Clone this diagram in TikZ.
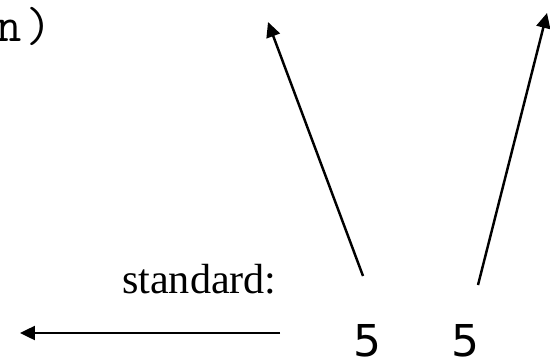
\documentclass[tikz,border=0pt]{standalone}
\usepackage{fontspec}
\setmainfont{Liberation Serif}
\newfontfamily\digitfont{DejaVu Sans}
\usetikzlibrary{arrows.meta}
\tikzset{
  pointer/.style={-{Triangle[length=0.3cm, width=0.28cm]}, line width=1.4pt, color=black},
  label/.style={inner sep=0pt, font=\fontsize{24}{28}\selectfont},
  code/.style={inner sep=0pt, font=\ttfamily\fontsize{28}{32}\selectfont},
  digit/.style={inner sep=0pt, font=\digitfont\fontsize{25}{30}\selectfont}
}

\begin{document}
\begin{tikzpicture}[x=0.02cm, y=-0.02cm]
\useasboundingbox (0,0) rectangle (550,361);
\node[code, anchor=base west] (paren) at (-4,42) {n\kern2.5pt)};
\node[label, anchor=base east] (std) at (277,293) {standard:};
\node[digit, anchor=base] (fiveA) at (367,356) {5};
\node[digit, anchor=base] (fiveB) at (465,356) {5};
% arrow ends
\coordinate (upA) at (363,276);
\coordinate (tipA) at (268,22);
\coordinate (upB) at (478,285);
\coordinate (tipB) at (547,13);
\coordinate (leftS) at (280,333);
\coordinate (leftT) at (20,333);
\draw[pointer] (upA) -- (tipA);
\draw[pointer] (upB) -- (tipB);
\draw[pointer] (leftS) -- (leftT);
\end{tikzpicture}
\end{document}
